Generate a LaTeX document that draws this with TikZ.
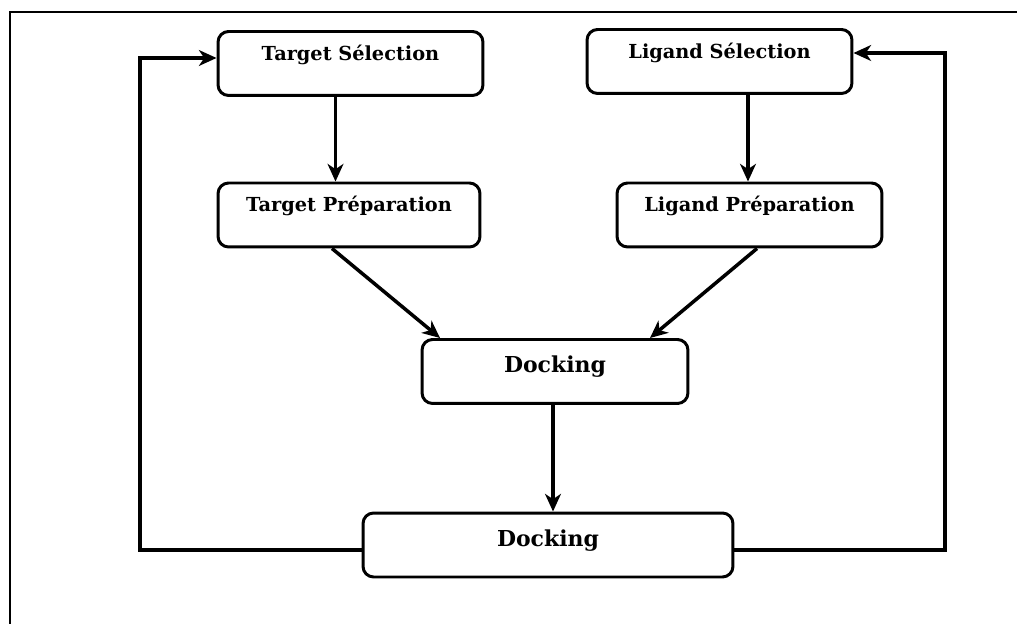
\documentclass[tikz,border=0pt]{standalone}
\usepackage{fontspec}
\setmainfont{DejaVu Serif}
\usepackage{tikz}
\usetikzlibrary{arrows.meta,positioning}

\begin{document}
\begin{tikzpicture}[x=0.02cm,y=-0.02cm,
  box/.style={draw,line width=1.7pt,rounded corners=6pt,inner xsep=0pt,inner ysep=0pt,
    minimum height=1.28cm,text height=0.58cm,text depth=0.70cm,
    font=\fontsize{11}{13}\selectfont\bfseries},
  dockbox/.style={box,text height=0.66cm,text depth=0.62cm,
    font=\fontsize{12.5}{14}\selectfont\bfseries},
  arr/.style={line width=2pt,-{Stealth[length=10pt,width=9pt,inset=3pt]}}]
  \useasboundingbox (0,0) rectangle (1017,624);
  \draw[line width=1.1pt] (10,624) -- (10,12) -- (1017,12);

  \node[box,minimum width=5.3cm] (tsel) at (350.5,63.5) {Target Sélection};
  \node[box,minimum width=5.3cm] (lsel) at (719.5,61.5) {Ligand Sélection};
  \node[box,minimum width=5.24cm] (tprep) at (349,215) {Target Préparation};
  \node[box,minimum width=5.3cm] (lprep) at (749.5,215) {Ligand Préparation};
  \node[dockbox,minimum width=5.32cm] (dock) at (555,371.5) {Docking};
  \node[dockbox,minimum width=7.4cm] (dockb) at (548,545) {Docking};

  \coordinate (lloop) at (140,300);
  \coordinate (rloop) at (945,300);

  \draw[arr] ([xshift=-0.3cm]tsel.south) -- ([xshift=-0.3cm]tsel.south |- tprep.north);
  \draw[arr] ([xshift=0.57cm]lsel.south) -- ([xshift=0.57cm]lsel.south |- lprep.north);
  \draw[arr] ([xshift=-0.34cm]tprep.south) -- ([xshift=-2.3cm]dock.north);
  \draw[arr] ([xshift=0.15cm]lprep.south) -- ([xshift=1.9cm]dock.north);
  \draw[arr] ([xshift=-0.04cm]dock.south) -- ([xshift=-0.04cm]dock.south |- dockb.north);

  % feedback loops
  \draw[arr] ([yshift=-0.1cm]dockb.west) -| (lloop) |- ([yshift=0.11cm]tsel.west);
  \draw[arr] ([yshift=-0.1cm]dockb.east) -| (rloop) |- ([yshift=0.17cm]lsel.east);
\end{tikzpicture}
\end{document}
